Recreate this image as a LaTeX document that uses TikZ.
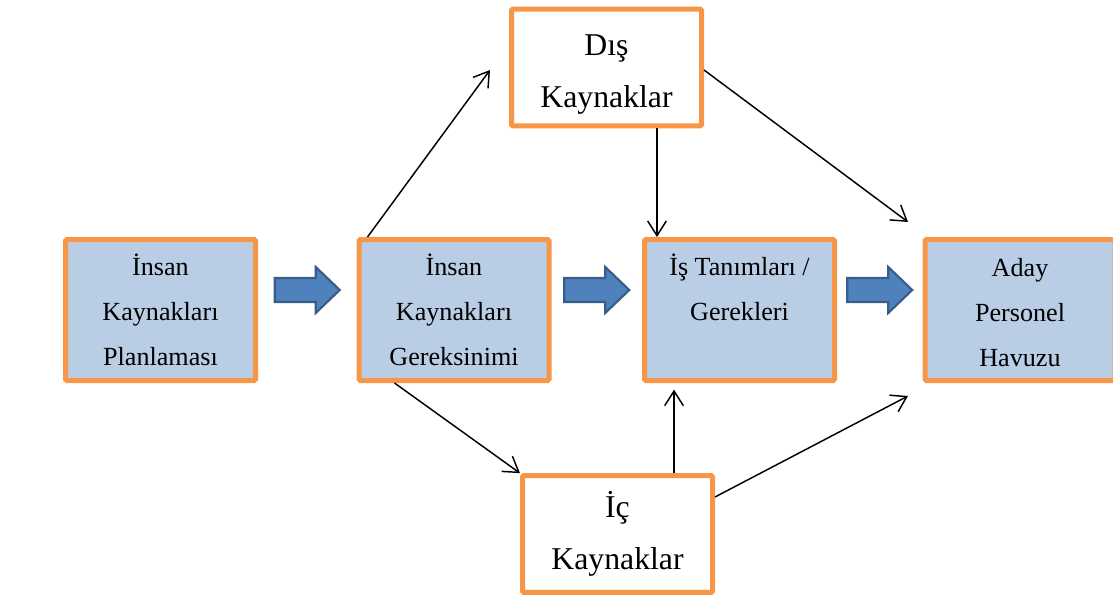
\documentclass[tikz,border=0pt]{standalone}
\usepackage{fontspec}
\setmainfont{Liberation Serif}
\usetikzlibrary{calc,arrows.meta}
\definecolor{boxorange}{HTML}{F79646}
\definecolor{boxblue}{HTML}{B9CDE5}
\definecolor{arrowblue}{HTML}{4F81BD}
\definecolor{arrowedge}{HTML}{385D8A}

\begin{document}
\begin{tikzpicture}[x=0.75pt,y=-0.75pt,
	box/.style={draw=boxorange,line width=3.75pt,rounded corners=1pt,minimum width=142.5pt,minimum height=105.75pt,align=center,inner sep=0pt,font=\fontsize{19.6}{33.75}\selectfont},
	main/.style={box,fill=boxblue},
	src/.style={box,fill=white,minimum height=87.5pt,font=\fontsize{23.8}{39}\selectfont},
	link/.style={-{Straight Barb[length=11pt,width=14pt]},line width=1.1pt},
	barrow/.style={fill=arrowblue,draw=arrowedge,line width=1.6pt,line join=miter},
	pics/bigarrow/.style={code={\draw[barrow] (-32.5,-12) -- (8.5,-12) -- (8.5,-23) -- (32.5,0) -- (8.5,23) -- (8.5,12) -- (-32.5,12) -- cycle;}}]
	\useasboundingbox (0,0) rectangle (1113,599);
	\node[main] (plan) at (160.5,310) {İnsan\\Kaynakları\\Planlaması};
	\node[main] (need) at (454,310) {İnsan\\Kaynakları\\Gereksinimi};
	\node[main] (job) at (739.5,310) {İş Tanımları /\\Gerekleri\\\mbox{}};
	\node[main] (pool) at (1020,310) {\rule{0pt}{18pt}Aday\\Personel\\Havuzu};
	\node[src] (ext) at (606.5,67.5) {\rule{0pt}{26pt}Dış\\Kaynaklar};
	\node[src] (int) at (617.5,534) {İç\\Kaynaklar};
	\pic at ($($(plan.east)!0.5!(need.west)$)+(0,-20)$) {bigarrow};
	\pic at ($($(need.east)!0.5!(job.west)$)+(0,-20)$) {bigarrow};
	\pic at ($($(job.east)!0.5!(pool.west)$)+(0,-20)$) {bigarrow};
	\coordinate (e1) at (490,70);
	\coordinate (e2) at (908,222);
	\coordinate (e3) at (908,396);
	\draw[link] ($(need.north west)+(11,0)$) -- (e1);
	\draw[link] ($(ext.south west)+(148,0)$) coordinate (d1) -- (d1 |- job.north);
	\draw[link] ($(ext.east)+(0,2.5)$) -- (e2);
	\draw[link] ($(need.south west)+(38,0)$) -- (int.north west);
	\draw[link,shorten >=5pt] ($(int.north west)+(154,0)$) coordinate (i1) -- (i1 |- job.south);
	\draw[link] ($(int.east)+(0,-37)$) -- (e3);
\end{tikzpicture}
\end{document}
